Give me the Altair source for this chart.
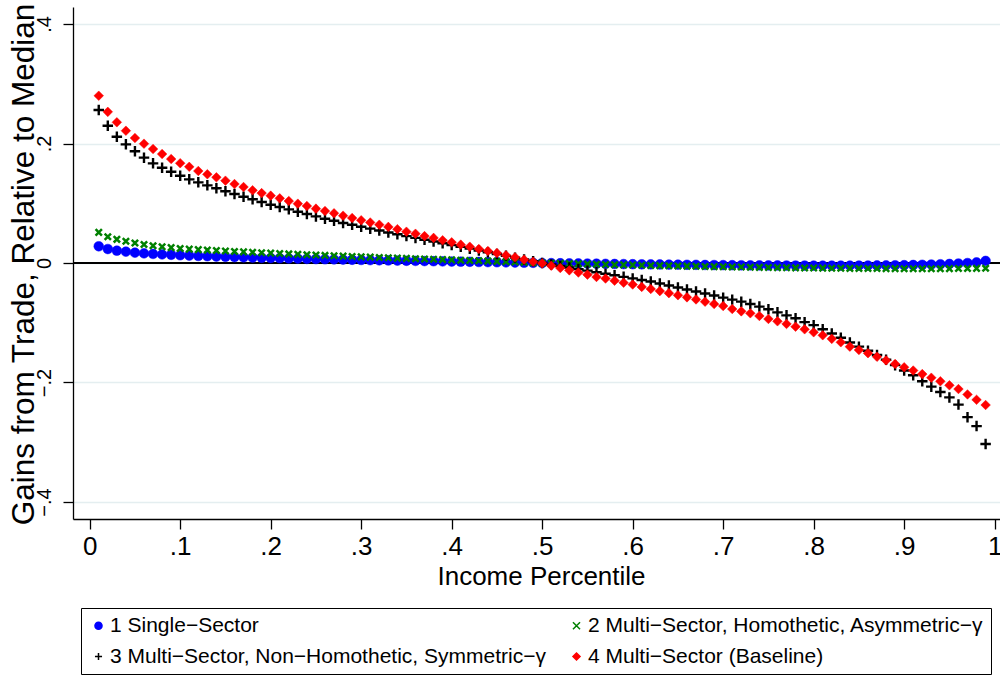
import altair as alt
import pandas as pd

SERIES = [
    "1 Single\u2212Sector",
    "2 Multi\u2212Sector, Homothetic, Asymmetric\u2212\u03b3",
    "3 Multi\u2212Sector, Non\u2212Homothetic, Symmetric\u2212\u03b3",
    "4 Multi\u2212Sector (Baseline)",
]
COLORS = ["#0000ff", "#008000", "#000000", "#ff0000"]
SHAPES = ["circle", "M-1,-1L1,1M-1,1L1,-1", "M-1,0L1,0M0,-1L0,1", "diamond"]
# legend fills column by column: list entries so rows read 1,2 / 3,4
LEGEND_ORDER = [0, 2, 1, 3]

PERCENTILE = [i / 100 for i in range(1, 100)]

SINGLE = [0.028, 0.0234, 0.0206, 0.019, 0.0173, 0.0162, 0.0152, 0.0144, 0.0137, 0.013,
          0.0124, 0.0118, 0.0113, 0.0108, 0.0103, 0.0099, 0.0095, 0.0091, 0.0087, 0.0083,
          0.0080, 0.0076, 0.0073, 0.0069, 0.0066, 0.0063, 0.0060, 0.0057, 0.0054, 0.0051,
          0.0048, 0.0045, 0.0043, 0.0040, 0.0037, 0.0035, 0.0032, 0.0030, 0.0027, 0.0025,
          0.0022, 0.0020, 0.0017, 0.0015, 0.0013, 0.0010, 0.0008, 0.0005, 0.0003, 0.0,
          -0.0002, -0.0004, -0.0006, -0.0008, -0.0010, -0.0012, -0.0014, -0.0016, -0.0018, -0.0020,
          -0.0022, -0.0023, -0.0025, -0.0027, -0.0028, -0.0030, -0.0031, -0.0033, -0.0034, -0.0035,
          -0.0036, -0.0038, -0.0039, -0.0040, -0.0041, -0.0041, -0.0042, -0.0043, -0.0043, -0.0044,
          -0.0044, -0.0044, -0.0044, -0.0044, -0.0043, -0.0042, -0.0041, -0.0040, -0.0038, -0.0036,
          -0.0033, -0.0030, -0.0026, -0.0021, -0.0016, -0.0009, -0.0001, 0.0010, 0.0035]

HOMOTHETIC = [0.0513, 0.044, 0.0396, 0.0363, 0.0335, 0.0310, 0.029, 0.0273, 0.0257, 0.0242,
              0.0232, 0.0224, 0.0216, 0.0208, 0.0200, 0.0193, 0.0186, 0.0179, 0.0172, 0.0165,
              0.0158, 0.0152, 0.0145, 0.0139, 0.0133, 0.0127, 0.0121, 0.0115, 0.0109, 0.0103,
              0.0098, 0.0092, 0.0087, 0.0082, 0.0077, 0.0072, 0.0067, 0.0062, 0.0057, 0.0052,
              0.0047, 0.0042, 0.0037, 0.0032, 0.0027, 0.0022, 0.0016, 0.0011, 0.0005, 0.0,
              -0.0004, -0.0007, -0.0011, -0.0014, -0.0018, -0.0021, -0.0025, -0.0028, -0.0031, -0.0034,
              -0.0038, -0.0041, -0.0044, -0.0047, -0.0050, -0.0053, -0.0055, -0.0058, -0.0061, -0.0063,
              -0.0066, -0.0068, -0.0071, -0.0073, -0.0075, -0.0077, -0.0079, -0.0081, -0.0083, -0.0085,
              -0.0086, -0.0088, -0.0089, -0.0090, -0.0091, -0.0092, -0.0093, -0.0094, -0.0094, -0.0095,
              -0.0095, -0.0095, -0.0095, -0.0095, -0.0094, -0.0093, -0.0092, -0.0090, -0.0088]

NONHOMOTHETIC = [0.256, 0.2298, 0.2114, 0.1986, 0.187, 0.1763, 0.1668, 0.1595, 0.1528, 0.1461,
                 0.140, 0.135, 0.130, 0.125, 0.120, 0.1155, 0.111, 0.1066, 0.102, 0.0976,
                 0.0937, 0.0898, 0.0859, 0.082, 0.078, 0.0741, 0.0708, 0.067, 0.064, 0.0607,
                 0.0575, 0.0543, 0.0511, 0.048, 0.045, 0.042, 0.039, 0.036, 0.033, 0.030,
                 0.027, 0.024, 0.021, 0.018, 0.015, 0.012, 0.009, 0.006, 0.003, 0.0,
                 -0.0025, -0.005, -0.0076, -0.0102, -0.0128, -0.0154, -0.018, -0.0206, -0.0232, -0.0258,
                 -0.0284, -0.031, -0.0343, -0.0376, -0.041, -0.0443, -0.0476, -0.051, -0.0545, -0.058,
                 -0.0613, -0.0647, -0.0686, -0.073, -0.0775, -0.0826, -0.0876, -0.0926, -0.099, -0.104,
                 -0.111, -0.118, -0.125, -0.133, -0.140, -0.147, -0.154, -0.162, -0.171, -0.180,
                 -0.188, -0.198, -0.207, -0.216, -0.225, -0.237, -0.258, -0.273, -0.303]

BASELINE = [0.280, 0.253, 0.2355, 0.2214, 0.2092, 0.1997, 0.1908, 0.1824, 0.174, 0.167,
            0.161, 0.154, 0.1485, 0.1434, 0.1378, 0.1322, 0.1272, 0.1217, 0.117, 0.1127,
            0.1082, 0.1037, 0.0993, 0.0954, 0.091, 0.087, 0.0832, 0.0792, 0.0753, 0.0715,
            0.0678, 0.0641, 0.0604, 0.0566, 0.0524, 0.049, 0.045, 0.042, 0.038, 0.0346,
            0.0307, 0.0273, 0.0234, 0.020, 0.0167, 0.0128, 0.0095, 0.0056, 0.0022, -0.0006,
            -0.0045, -0.0084, -0.0123, -0.016, -0.0195, -0.0234, -0.026, -0.0296, -0.033, -0.036,
            -0.040, -0.0435, -0.047, -0.0505, -0.054, -0.0575, -0.061, -0.0648, -0.0686, -0.072,
            -0.077, -0.0809, -0.0842, -0.0887, -0.0937, -0.0976, -0.102, -0.1066, -0.111, -0.116,
            -0.121, -0.127, -0.1327, -0.140, -0.1456, -0.151, -0.157, -0.163, -0.169, -0.1746,
            -0.180, -0.186, -0.192, -0.198, -0.2047, -0.211, -0.220, -0.229, -0.2377]

X_TICKS = [0, 0.1, 0.2, 0.3, 0.4, 0.5, 0.6, 0.7, 0.8, 0.9, 1]
Y_TICKS = [-0.4, -0.2, 0, 0.2, 0.4]

FONT = "Liberation Sans"

rows = []
for name, vals in zip(SERIES, [SINGLE, HOMOTHETIC, NONHOMOTHETIC, BASELINE]):
    for p, v in zip(PERCENTILE, vals):
        rows.append({"series": name, "pct": p, "gain": v})
df = pd.DataFrame(rows)

label_expr = ("datum.value == 0 ? '0' : datum.value == 1 ? '1' : "
              "replace(format(datum.value, '.1f'), '0.', '.')")

x_enc = alt.X("pct:Q",
              scale=alt.Scale(domain=[-0.01845, 1.0059], nice=False, zero=False),
              axis=alt.Axis(values=X_TICKS, labelExpr=label_expr, grid=False,
                            title="Income Percentile", titleX=468, titleY=65,
                            titleAlign="center", titleBaseline="alphabetic",
                            titleFontSize=26, labelFontSize=26, labelPadding=4,
                            tickSize=10))
y_enc = alt.Y("gain:Q",
              scale=alt.Scale(domain=[-0.4285, 0.4285], nice=False, zero=False),
              axis=alt.Axis(values=Y_TICKS, labelExpr=label_expr, grid=True,
                            gridColor="#e4eef0", gridWidth=1.5,
                            labelAngle=270, labelAlign="center",
                            labelBaseline="alphabetic", labelPadding=13,
                            labelFontSize=20, tickSize=10,
                            title="Gains from Trade, Relative to Median",
                            titleAngle=270, titleX=-40, titleY=257,
                            titleAlign="center", titleBaseline="alphabetic",
                            titleFontSize=31.5))

# the reference legend frame runs past the right edge of the picture:
# pad the right-hand column's labels with trailing non-breaking spaces
legend_label_expr = ("(indexof(datum.label, '2 ') == 0 || indexof(datum.label, '4 ') == 0)"
                     " ? datum.label + '\u00a0\u00a0\u00a0\u00a0\u00a0\u00a0\u00a0\u00a0'"
                     " : datum.label")

legend = alt.Legend(orient="none", legendX=8, legendY=601, columns=2,
                    title=None, labelExpr=legend_label_expr,
                    strokeColor="black", padding=7,
                    labelFont=FONT, labelFontSize=21, labelColor="black",
                    labelLimit=800, symbolSize=50, symbolStrokeWidth=1.5,
                    rowPadding=9, columnPadding=20, labelOffset=1)

leg_domain = [SERIES[i] for i in LEGEND_ORDER]
leg_colors = [COLORS[i] for i in LEGEND_ORDER]
leg_shapes = [SHAPES[i] for i in LEGEND_ORDER]

fill_enc = alt.Fill("series:N", scale=alt.Scale(domain=leg_domain, range=leg_colors), legend=legend)
stroke_enc = alt.Stroke("series:N", scale=alt.Scale(domain=leg_domain, range=leg_colors), legend=legend)
shape_enc = alt.Shape("series:N", scale=alt.Scale(domain=leg_domain, range=leg_shapes), legend=legend)

MARK_SIZE = [95, 40, 110, 92]
MARK_STROKE = [0.5, 2.5, 2.4, 0.5]

zero_line = alt.Chart(df).mark_rule(color="black", strokeWidth=1).encode(y=alt.datum(0))

layers = [zero_line]
for name, sz, sw in zip(SERIES, MARK_SIZE, MARK_STROKE):
    layers.append(
        alt.Chart(df).transform_filter(alt.datum.series == name)
        .mark_point(size=sz, strokeWidth=sw, opacity=1)
        .encode(x=x_enc, y=y_enc, fill=fill_enc, stroke=stroke_enc, shape=shape_enc)
    )

chart = alt.layer(*layers).properties(
    width=927, height=512,
    autosize=alt.AutoSizeParams(type="none"),
    padding={"left": 73, "top": 7, "right": 0, "bottom": 161},
    background="white",
).configure_view(stroke=None).configure_axis(
    domainColor="black", domainWidth=1.3, tickColor="black", tickWidth=1.3,
    labelFont=FONT, titleFont=FONT, labelColor="black", titleColor="black",
    titleFontWeight="normal",
)

chart.save("out.html", embed_options={"renderer": "svg", "actions": False})
